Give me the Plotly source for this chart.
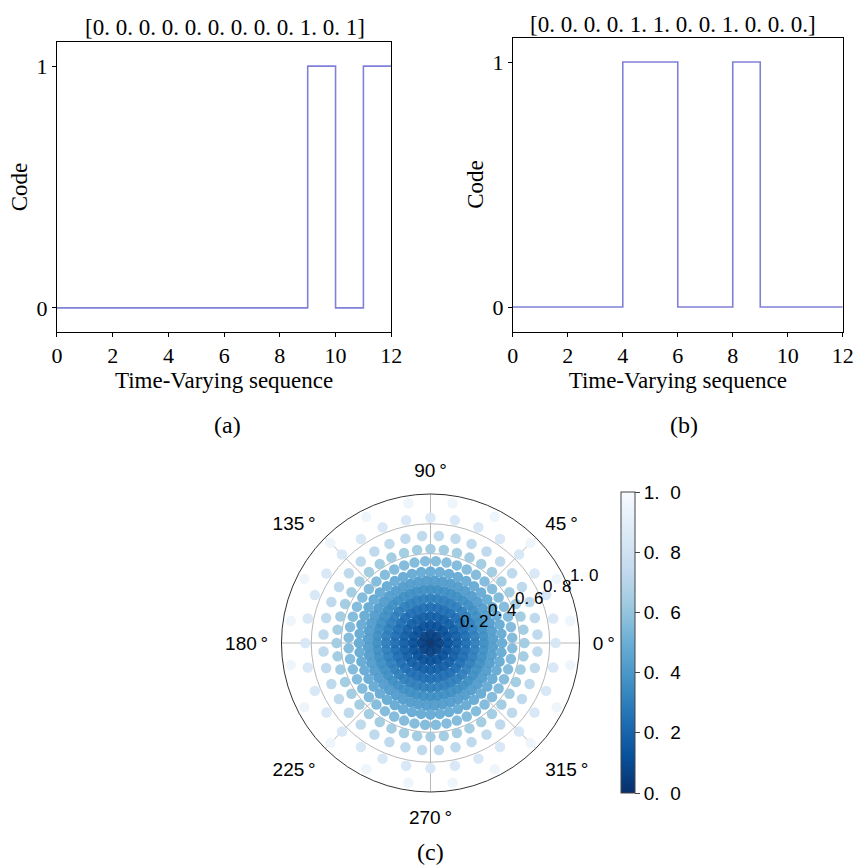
import numpy as np
import plotly.graph_objects as go
import plotly.express as px

# ---- data ----
time_x = list(range(13))
code_a = [0, 0, 0, 0, 0, 0, 0, 0, 0, 1, 0, 1]
code_b = [0, 0, 0, 0, 1, 1, 0, 0, 1, 0, 0, 0]
title_a = "[0. 0. 0. 0. 0. 0. 0. 0. 0. 1. 0. 1]"
title_b = "[0. 0. 0. 0. 1. 1. 0. 0. 1. 0. 0. 0.]"
x_ticks = [0, 2, 4, 6, 8, 10, 12]
y_ticks = [0, 1]

# polar scatter: ring radii, dots per ring and angular offset (fraction of a step)
ring_r = [0.00, 0.06, 0.12, 0.18, 0.24, 0.30, 0.36, 0.42, 0.48, 0.55, 0.63, 0.72, 0.84, 0.95]
ring_n = [1, 8, 16, 24, 32, 40, 48, 48, 48, 48, 44, 40, 32, 20]
ring_off = [0, 0, 0, 0, 0, 0, 0, 0.5, 0, 0.5, 0, 0.5, 0, 0.5]
ang_ticks = [0, 45, 90, 135, 180, 225, 270, 315]
rad_ticks = [0.2, 0.4, 0.6, 0.8, 1.0]
rad_labels = ["0. 2", "0. 4", "0. 6", "0. 8", "1. 0"]
cbar_ticks = [0.0, 0.2, 0.4, 0.6, 0.8, 1.0]
cbar_labels = ["0. 0", "0. 2", "0. 4", "0. 6", "0. 8", "1. 0"]

pol_r, pol_t = [], []
for r, n, off in zip(ring_r, ring_n, ring_off):
    for j in range(n):
        pol_r.append(r)
        pol_t.append((j + off) * 360.0 / n)

NB = "\u00a0"
TH = "\u2009"
W, H = 864, 868
line_col = "#8080d8"
serif = "Liberation Serif"
sans = "Liberation Sans"

# polar geometry (pixels)
pol_x0, pol_x1, pol_y0, pol_y1 = 281, 585, 491, 795
pcx, pcy = (pol_x0 + pol_x1) / 2, (pol_y0 + pol_y1) / 2
pR = (pol_x1 - pol_x0) / 2
rad_angle = 22.5

fig = go.Figure()

fig.add_trace(go.Scatter(x=time_x, y=code_a + [code_a[-1]], mode="lines",
                         line=dict(shape="hv", color=line_col, width=1.6),
                         xaxis="x", yaxis="y", showlegend=False))
fig.add_trace(go.Scatter(x=time_x, y=code_b + [code_b[-1]], mode="lines",
                         line=dict(shape="hv", color=line_col, width=1.6),
                         xaxis="x2", yaxis="y2", showlegend=False))

fig.add_trace(go.Scatterpolar(
    r=pol_r, theta=pol_t, mode="markers", subplot="polar", showlegend=False,
    marker=dict(size=10.5, color=pol_r, cmin=0, cmax=1, opacity=0.95,
                colorscale=px.colors.sequential.Blues_r, line=dict(width=0),
                colorbar=dict(x=0.7257, xanchor="left", xpad=0, ypad=0,
                              y=1 - 642.5 / H, yanchor="middle",
                              lenmode="pixels", len=301, thickness=14,
                              outlinewidth=1, outlinecolor="#444",
                              tickvals=cbar_ticks,
                              ticktext=[t.replace(" ", NB + NB) for t in cbar_labels],
                              ticks="outside", ticklen=5, tickcolor="#444",
                              tickfont=dict(family=sans, size=19, color="black")))))

ax_common = dict(showline=True, linecolor="black", linewidth=1, mirror=True,
                 ticks="outside", ticklen=4, tickcolor="black", showgrid=False,
                 zeroline=False, tickfont=dict(family=serif, size=22, color="black"))
title_font = dict(family=serif, size=23, color="black")

annotations = [
    dict(text=title_a, x=223.5 / W, y=1 - 27 / H, xanchor="center", yanchor="middle", font=title_font),
    dict(text=title_b, x=680 / W, y=1 - 25 / H, xanchor="center", yanchor="middle", font=title_font),
    dict(text="(a)", x=226 / W, y=1 - 425 / H, xanchor="center", yanchor="middle",
         font=dict(family=serif, size=24, color="black")),
    dict(text="(b)", x=692 / W, y=1 - 425 / H, xanchor="center", yanchor="middle",
         font=dict(family=serif, size=24, color="black")),
    dict(text="(c)", x=433 / W, y=1 - 852 / H, xanchor="center", yanchor="middle",
         font=dict(family=serif, size=24, color="black")),
]
# radial tick labels: bottom-left corner at the tick position along the 22.5 deg line
for rv, lab in zip(rad_ticks, rad_labels):
    px_ = pcx + rv * pR * np.cos(np.radians(rad_angle))
    py_ = pcy - rv * pR * np.sin(np.radians(rad_angle))
    annotations.append(dict(text=lab, x=px_ / W, y=1 - (py_ + 2) / H, xanchor="left", yanchor="bottom",
                            font=dict(family=sans, size=17, color="black")))
for a in annotations:
    a.update(xref="paper", yref="paper", showarrow=False)

fig.update_layout(
    width=W, height=H, margin=dict(l=0, r=0, t=0, b=0),
    paper_bgcolor="white", plot_bgcolor="white",
    xaxis=dict(domain=[52 / W, 393 / W], range=[0, 12], tickvals=x_ticks,
               title=dict(text="Time-Varying sequence", font=title_font, standoff=4),
               anchor="y", **ax_common),
    yaxis=dict(domain=[1 - 332 / H, 1 - 42 / H], range=[-0.1, 1.1], tickvals=y_ticks,
               title=dict(text="Code", font=title_font, standoff=2),
               anchor="x", **ax_common),
    xaxis2=dict(domain=[517 / W, 853.5 / W], range=[0, 12], tickvals=x_ticks,
                title=dict(text="Time-Varying sequence", font=title_font, standoff=4),
                anchor="y2", **ax_common),
    yaxis2=dict(domain=[1 - 331.5 / H, 1 - 37.5 / H], range=[-0.1, 1.1], tickvals=y_ticks,
                title=dict(text="Code", font=title_font, standoff=2),
                anchor="x2", **ax_common),
    polar=dict(
        domain=dict(x=[pol_x0 / W, pol_x1 / W], y=[1 - pol_y1 / H, 1 - pol_y0 / H]),
        bgcolor="white",
        radialaxis=dict(range=[0, 1], angle=rad_angle, tickvals=rad_ticks,
                        showticklabels=False,
                        showline=False, ticks="", gridcolor="#b8b8b8", gridwidth=1,
                        layer="above traces"),
        angularaxis=dict(tickvals=ang_ticks, ticktext=[f"{a}{TH}°" for a in ang_ticks],
                         direction="counterclockwise", rotation=0,
                         showline=True, linecolor="#333", linewidth=1,
                         ticks="outside", ticklen=9, tickcolor="rgba(0,0,0,0)",
                         gridcolor="#b8b8b8", gridwidth=1, layer="above traces",
                         tickfont=dict(family=sans, size=19, color="black")),
    ),
    annotations=annotations,
)

fig.write_html("out.html")
